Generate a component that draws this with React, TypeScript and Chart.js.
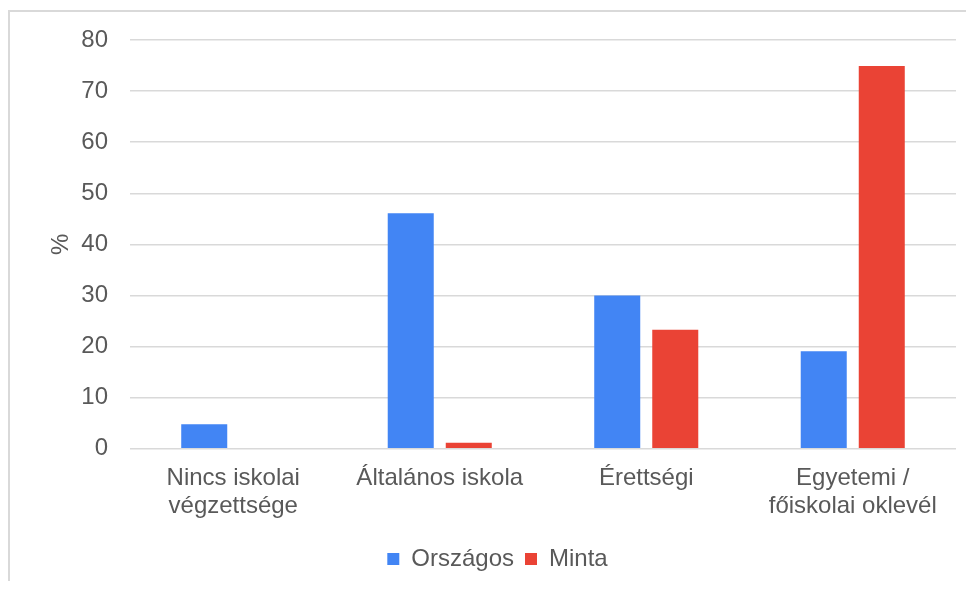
import React, { useEffect, useRef } from "react";
import { Chart, registerables } from "chart.js";

Chart.register(...registerables);

const categories: (string | string[])[] = [
  ["Nincs iskolai", "végzettsége"],
  "Általános iskola",
  "Érettségi",
  ["Egyetemi /", "főiskolai oklevél"],
];
const orszagos = [4.8, 46.1, 30.0, 19.1];
const minta = [0, 1.2, 23.3, 74.9];
const seriesNames = ["Országos", "Minta"];
const yTicks = { min: 0, max: 80, step: 10 };
const yTitle = "%";

const FONT = "'Liberation Sans', Arial, sans-serif";
const TEXT = "#595959";
const FS = 24;

export default function App() {
  const ref = useRef<HTMLCanvasElement>(null);
  useEffect(() => {
    if (!ref.current) return;
    const chart = new Chart(ref.current, {
      type: "bar",
      data: {
        labels: categories,
        datasets: [
          { label: seriesNames[0], data: orszagos, backgroundColor: "#4285F4", borderWidth: 0 },
          { label: seriesNames[1], data: minta, backgroundColor: "#EA4335", borderWidth: 0 },
        ],
      },
      options: {
        animation: false,
        responsive: true,
        maintainAspectRatio: false,
        datasets: { bar: { categoryPercentage: 0.562, barPercentage: 0.793 } },
        layout: { padding: { left: 29, top: 28, right: 18, bottom: 0 } },
        plugins: {
          tooltip: { enabled: false },
          legend: {
            position: "bottom",
            labels: {
              boxWidth: 12,
              boxHeight: 12,
              padding: 11,
              color: TEXT,
              font: { family: FONT, size: FS, lineHeight: 1.15 },
            },
          },
        },
        scales: {
          x: {
            grid: { display: false, drawTicks: false },
            border: { display: false },
            ticks: { color: TEXT, font: { family: FONT, size: FS, lineHeight: 1.15 }, padding: 16, maxRotation: 0 },
          },
          y: {
            min: yTicks.min,
            max: yTicks.max,
            afterFit: (s: any) => {
              s.width = 91;
              s.paddingTop = 0;
              s.paddingBottom = 0;
            },
            grid: { color: "#d9d9d9", lineWidth: 1.5, drawTicks: false },
            border: { display: false },
            ticks: { stepSize: yTicks.step, color: TEXT, font: { family: FONT, size: FS }, padding: 22 },
            title: {
              display: true,
              text: yTitle,
              color: TEXT,
              font: { family: FONT, size: FS, lineHeight: 1.15 },
              padding: { top: 9, bottom: 6 },
            },
          },
        },
      },
    });
    return () => chart.destroy();
  }, []);

  return (
    <div style={{ paddingTop: 2 }}>
      <div
        style={{
          position: "relative",
          width: 964,
          height: 569,
          borderTop: "2px solid #d9d9d9",
          borderLeft: "2px solid #d9d9d9",
          background: "#fff",
        }}
      >
        <div style={{ position: "absolute", left: 0, top: 0, width: 964, height: 569 }}>
          <canvas ref={ref} />
        </div>
      </div>
    </div>
  );
}
